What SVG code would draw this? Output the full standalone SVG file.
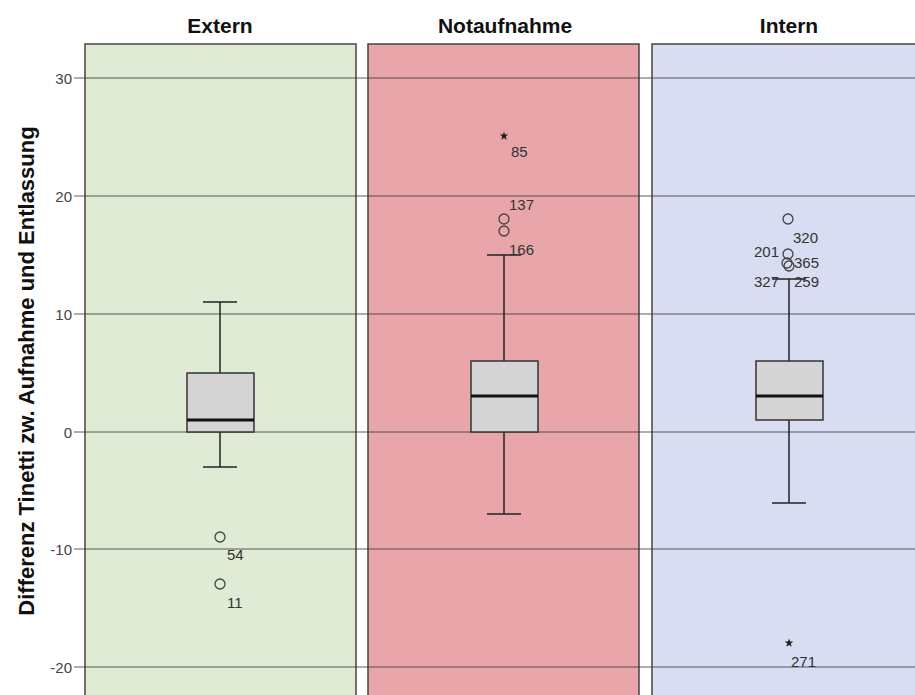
<svg xmlns="http://www.w3.org/2000/svg" width="915" height="695" viewBox="0 0 915 695">
<style>
.title{font-family:"Liberation Sans",Arial,sans-serif;font-size:21px;font-weight:bold;fill:#111;text-anchor:middle}
.ytitle{font-family:"Liberation Sans",Arial,sans-serif;font-size:22px;font-weight:bold;fill:#111;text-anchor:middle}
.tick{font-family:"Liberation Sans",Arial,sans-serif;font-size:15px;fill:#444;text-anchor:end}
.lbl{font-family:"Liberation Sans",Arial,sans-serif;font-size:15px;fill:#333}
.panel{stroke:#444;stroke-width:1.5}
.grid{stroke:#333;stroke-width:0.8}
.box{fill:#d4d4d4;stroke:#333;stroke-width:1.5}
.med{stroke:#111;stroke-width:3}
.wh{stroke:#222;stroke-width:1.5;fill:none}
.out{fill:none;stroke:#444;stroke-width:1.3}
.star{fill:#222}
</style>
<defs>
<path id="st" d="M0,-4.5 L1.1,-1.5 L4.3,-1.4 L1.8,0.6 L2.7,3.7 L0,1.9 L-2.7,3.7 L-1.8,0.6 L-4.3,-1.4 L-1.1,-1.5 Z"/>
</defs>
<rect width="915" height="695" fill="#fff"/>
<g id="panels">
<rect class="panel" x="85" y="44" width="271" height="660" fill="#e0ebd6"/>
<rect class="panel" x="368" y="44" width="271" height="660" fill="#e8a6aa"/>
<rect class="panel" x="652" y="44" width="280" height="660" fill="#d8ddf2"/>
</g>
<g id="grid">
<line class="grid" x1="74" y1="78" x2="915" y2="78"/>
<line class="grid" x1="74" y1="196" x2="915" y2="196"/>
<line class="grid" x1="74" y1="314" x2="915" y2="314"/>
<line class="grid" x1="74" y1="432" x2="915" y2="432"/>
<line class="grid" x1="74" y1="549" x2="915" y2="549"/>
<line class="grid" x1="74" y1="667" x2="915" y2="667"/>
</g>
<g id="axis">
<text class="tick" x="72" y="84">30</text>
<text class="tick" x="72" y="202">20</text>
<text class="tick" x="72" y="320">10</text>
<text class="tick" x="72" y="438">0</text>
<text class="tick" x="72" y="555">-10</text>
<text class="tick" x="72" y="673">-20</text>
<text class="ytitle" transform="translate(34,371) rotate(-90)">Differenz Tinetti zw. Aufnahme und Entlassung</text>
</g>
<g id="titles">
<text class="title" x="220" y="33">Extern</text>
<text class="title" x="505" y="33">Notaufnahme</text>
<text class="title" x="789" y="33">Intern</text>
</g>
<g id="extern">
<line class="wh" x1="220" y1="302" x2="220" y2="373"/>
<line class="wh" x1="220" y1="432" x2="220" y2="467"/>
<line class="wh" x1="203" y1="302" x2="237" y2="302"/>
<line class="wh" x1="203" y1="467" x2="237" y2="467"/>
<rect class="box" x="187" y="373" width="67" height="59"/>
<line class="med" x1="187" y1="420" x2="254" y2="420"/>
<circle class="out" cx="220" cy="537" r="5"/>
<text class="lbl" x="227" y="560">54</text>
<circle class="out" cx="220" cy="584" r="5"/>
<text class="lbl" x="227" y="608">11</text>
</g>
<g id="notaufnahme">
<line class="wh" x1="504" y1="255" x2="504" y2="361"/>
<line class="wh" x1="504" y1="432" x2="504" y2="514"/>
<line class="wh" x1="487" y1="255" x2="521" y2="255"/>
<line class="wh" x1="487" y1="514" x2="521" y2="514"/>
<rect class="box" x="471" y="361" width="67" height="71"/>
<line class="med" x1="471" y1="396" x2="538" y2="396"/>
<use href="#st" class="star" x="504" y="136"/>
<text class="lbl" x="511" y="157">85</text>
<text class="lbl" x="509" y="210">137</text>
<circle class="out" cx="504" cy="219" r="5"/>
<circle class="out" cx="504" cy="231" r="5"/>
<text class="lbl" x="509" y="255">166</text>
</g>
<g id="intern">
<line class="wh" x1="789" y1="279" x2="789" y2="361"/>
<line class="wh" x1="789" y1="420" x2="789" y2="503"/>
<line class="wh" x1="772" y1="279" x2="806" y2="279"/>
<line class="wh" x1="772" y1="503" x2="806" y2="503"/>
<rect class="box" x="756" y="361" width="67" height="59"/>
<line class="med" x1="756" y1="396" x2="823" y2="396"/>
<circle class="out" cx="788" cy="219" r="5"/>
<text class="lbl" x="793" y="243">320</text>
<text class="lbl" x="754" y="257">201</text>
<circle class="out" cx="788" cy="254" r="5"/>
<circle class="out" cx="787" cy="263" r="5"/>
<circle class="out" cx="789" cy="266" r="5"/>
<text class="lbl" x="794" y="268">365</text>
<text class="lbl" x="754" y="287">327</text>
<text class="lbl" x="794" y="287">259</text>
<use href="#st" class="star" x="789" y="643"/>
<text class="lbl" x="791" y="667">271</text>
</g>
</svg>
